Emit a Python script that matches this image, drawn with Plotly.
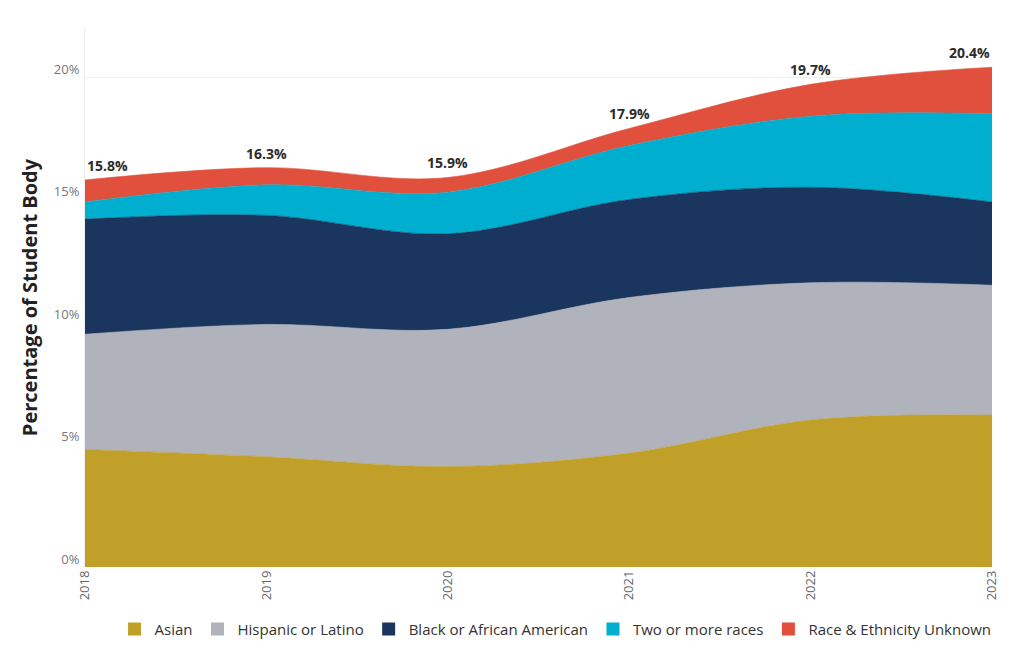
import plotly.graph_objects as go

years = ["2018", "2019", "2020", "2021", "2022", "2023"]
asian = [4.8, 4.5, 4.1, 4.65, 6.0, 6.2]
hispanic = [4.7, 5.4, 5.6, 6.35, 5.6, 5.3]
black = [4.7, 4.45, 3.9, 4.0, 3.9, 3.4]
two_more = [0.7, 1.25, 1.7, 2.2, 2.9, 3.6]
unknown = [0.9, 0.7, 0.6, 0.7, 1.3, 1.9]
totals = [15.8, 16.3, 15.9, 17.9, 19.7, 20.4]
total_labels = ["15.8%", "16.3%", "15.9%", "17.9%", "19.7%", "20.4%"]

series = [
    ("Asian", asian, "#C1A02A"),
    ("Hispanic or Latino", hispanic, "#B1B3BC"),
    ("Black or African American", black, "#1B365E"),
    ("Two or more races", two_more, "#00AECF"),
    ("Race & Ethnicity Unknown", unknown, "#E0503C"),
]

fig = go.Figure()
for name, vals, col in series:
    fig.add_trace(go.Scatter(
        x=years, y=vals, name=name, stackgroup="one", mode="lines",
        line=dict(width=0.6, color=col, shape="spline", smoothing=1.0),
        fillcolor=col, hoverinfo="skip", showlegend=False,
    ))
# legend entries with square markers
for name, vals, col in series:
    fig.add_trace(go.Scatter(
        x=[None], y=[None], name=name, mode="markers",
        marker=dict(symbol="square", size=13, color=col), showlegend=True,
    ))

n = len(years)
for i, (tot, lab) in enumerate(zip(totals, total_labels)):
    xa = "left" if i == 0 else ("right" if i == n - 1 else "center")
    fig.add_annotation(x=i, y=tot, xref="x", yref="y", text=lab, showarrow=False,
                       xanchor=xa, yanchor="bottom", yshift=3,
                       font=dict(family="Open Sans", size=14, color="#2b2b2b", weight="bold"))

fig.update_layout(
    width=1020, height=650,
    margin=dict(l=77, r=36, t=20, b=91, autoexpand=False),
    paper_bgcolor="white", plot_bgcolor="white",
    font=dict(family="Open Sans", color="#555"),
    showlegend=True,
    legend=dict(orientation="h", x=1.005, xanchor="right", y=-0.085, yanchor="top",
                font=dict(family="Open Sans", size=15, color="#333"),
                itemwidth=30, traceorder="normal", tracegroupgap=0, itemclick=False),
    yaxis=dict(range=[0, 22], tickvals=[0, 5, 10, 15, 20],
               ticktext=["0%", "5%", "10%", "15%", "20%"], automargin=False,
               showgrid=True, gridcolor="#eeeeee", gridwidth=1,
               showline=True, linecolor="#eeeeee", zeroline=False,
               tickfont=dict(family="Open Sans", size=13, color="#777"),
               ticklabelshift=-8, ticklabelstandoff=2,
               title=dict(text="Percentage of Student Body", standoff=10,
                          font=dict(family="Open Sans", size=20, color="#222", weight="bold"))),
    xaxis=dict(type="category", range=[0, 5], showgrid=False, zeroline=False,
               automargin=False, tickangle=-90, ticks="",
               tickfont=dict(family="Open Sans", size=13, color="#666"),
               showline=False),
)

fig.write_html("out.html")
